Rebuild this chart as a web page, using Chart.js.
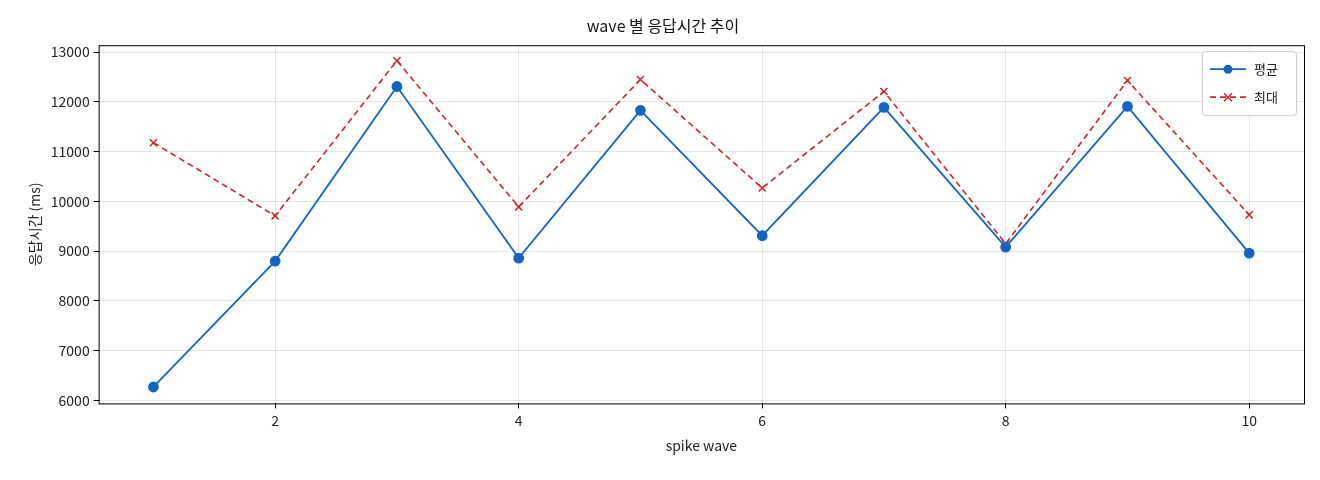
<!DOCTYPE html>
<html><head><meta charset="utf-8">
<script src="https://cdn.jsdelivr.net/npm/chart.js@4"></script>
<style>body{margin:0;background:#fff}#w{width:1320px;height:480px}</style>
</head><body><div id="w"><canvas id="c"></canvas></div>
<script>
const waves=[1,2,3,4,5,6,7,8,9,10];
const avgMs=[6270,8800,12310,8860,11830,9310,11890,9080,11910,8960];
const maxMs=[11180,9710,12830,9890,12450,10270,12210,9150,12430,9730];
const xTicks=[2,4,6,8,10];
const yTicks=[6000,7000,8000,9000,10000,11000,12000,13000];
const F="'Noto Sans CJK KR','DejaVu Sans',sans-serif";
Chart.defaults.font.family=F;Chart.defaults.color='#222';
const legendBox={id:'lb',afterDraw(ch){const ctx=ch.ctx,a=ch.chartArea;const x0=a.right-102,y0=a.top+6,w=94,h=64;
ctx.save();ctx.fillStyle='rgba(255,255,255,0.9)';ctx.strokeStyle='#ccc';ctx.lineWidth=1;
ctx.beginPath();ctx.roundRect(x0+.5,y0+.5,w,h,3);ctx.fill();ctx.stroke();
ch.data.datasets.forEach((d,i)=>{const yy=y0+18+i*28;ctx.strokeStyle=d.borderColor;ctx.lineWidth=1.8;ctx.setLineDash(d.borderDash||[]);
ctx.beginPath();ctx.moveTo(x0+8,yy);ctx.lineTo(x0+44,yy);ctx.stroke();ctx.setLineDash([]);
if(d.pointStyle==='circle'){ctx.fillStyle=d.borderColor;ctx.beginPath();ctx.arc(x0+26,yy,4.5,0,7);ctx.fill();}
else{ctx.lineWidth=1.5;ctx.beginPath();ctx.moveTo(x0+22,yy-4);ctx.lineTo(x0+30,yy+4);ctx.moveTo(x0+30,yy-4);ctx.lineTo(x0+22,yy+4);ctx.stroke();}
ctx.fillStyle='#222';ctx.font='13px '+F;ctx.textBaseline='middle';ctx.fillText(d.label,x0+52,yy);});
ctx.restore();}};
const frame={id:'fr',afterDatasetsDraw(ch){const a=ch.chartArea,c=ch.ctx;c.save();c.strokeStyle='#000';c.lineWidth=1;c.strokeRect(a.left+.5,a.top+.5,a.right-a.left,a.bottom-a.top);c.restore();}};
new Chart(document.getElementById('c'),{type:'line',
data:{datasets:[
{label:'평균',data:waves.map((x,i)=>({x,y:avgMs[i]})),borderColor:'#1565c0',backgroundColor:'#1565c0',borderWidth:1.8,pointStyle:'circle',pointRadius:4.5,pointBackgroundColor:'#1565c0',tension:0},
{label:'최대',data:waves.map((x,i)=>({x,y:maxMs[i]})),borderColor:'#c62828',backgroundColor:'#c62828',borderWidth:1.6,borderDash:[6,4],pointStyle:'cross',pointRotation:45,pointRadius:5,pointBorderWidth:1.5,tension:0}]},
options:{responsive:true,maintainAspectRatio:false,animation:false,
layout:{padding:{left:22,right:16,top:8,bottom:22}},
plugins:{legend:{display:false},tooltip:{enabled:false},
title:{display:true,text:'wave 별 응답시간 추이',font:{size:16,weight:'normal'},color:'#111',padding:{top:8,bottom:10}}},
scales:{
x:{type:'linear',min:0.55,max:10.45,afterBuildTicks:s=>{s.ticks=xTicks.map(v=>({value:v}))},
grid:{color:'rgba(0,0,0,0.1)',drawTicks:true,tickLength:5,tickColor:'#000'},border:{display:false},
ticks:{font:{size:14},color:'#222',padding:4},title:{display:true,text:'spike wave',font:{size:14},color:'#222'}},
y:{min:5940,max:13140,afterBuildTicks:s=>{s.ticks=yTicks.map(v=>({value:v}))},
grid:{color:'rgba(0,0,0,0.1)',tickLength:5,tickColor:'#000'},border:{display:false},
ticks:{font:{size:14},color:'#222',padding:4,callback:v=>String(v)},title:{display:true,text:'응답시간 (ms)',font:{size:14},color:'#222'}}}},
plugins:[frame,legendBox]});
</script></body></html>
